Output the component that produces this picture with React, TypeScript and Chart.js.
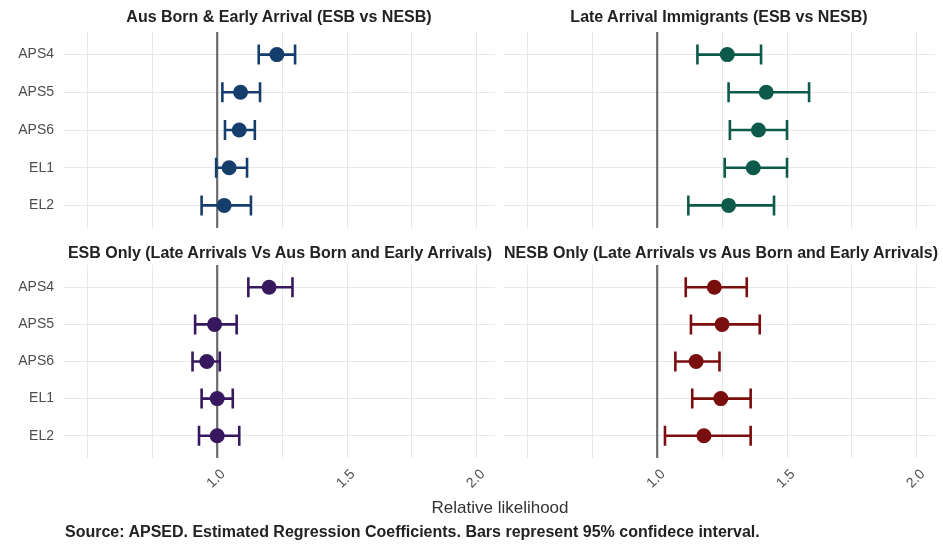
import React, { useEffect, useRef } from 'react';
import { Chart, registerables } from 'chart.js';
Chart.register(...registerables);

const categories = ['APS4', 'APS5', 'APS6', 'EL1', 'EL2'];
const gridValues = [0.5, 0.75, 1, 1.25, 1.5, 1.75, 2];
const labelValues = [1, 1.5, 2];
const tickLabels = ['1.0', '1.5', '2.0'];
const refValue = 1;

const ausEarlyEst = [1.23, 1.09, 1.085, 1.046, 1.027];
const ausEarlyLow = [1.16, 1.02, 1.03, 0.996, 0.94];
const ausEarlyHigh = [1.30, 1.165, 1.145, 1.115, 1.13];

const lateEst = [1.27, 1.42, 1.39, 1.37, 1.275];
const lateLow = [1.155, 1.275, 1.28, 1.26, 1.12];
const lateHigh = [1.40, 1.585, 1.50, 1.50, 1.45];

const esbEst = [1.20, 0.99, 0.96, 1.0, 1.0];
const esbLow = [1.12, 0.915, 0.905, 0.94, 0.93];
const esbHigh = [1.29, 1.075, 1.01, 1.06, 1.085];

const nesbEst = [1.22, 1.25, 1.15, 1.245, 1.18];
const nesbLow = [1.11, 1.13, 1.07, 1.135, 1.03];
const nesbHigh = [1.345, 1.395, 1.24, 1.36, 1.36];

const FONT = "'Liberation Sans', Arial, sans-serif";

type PanelProps = {
  est: number[];
  low: number[];
  high: number[];
  color: string;
  showY: boolean;
  showX: boolean;
  left: number;
  top: number;
  width: number;
  height: number;
  yWidth: number;
  xHeight: number;
  padding: { top: number; right: number; bottom: number; left: number };
};

function Panel(p: PanelProps) {
  const ref = useRef<HTMLCanvasElement | null>(null);
  useEffect(() => {
    if (!ref.current) return;
    const errPlugin = {
      id: 'errbars',
      beforeDatasetsDraw(chart: any) {
        const { ctx, chartArea, scales } = chart;
        const xs = scales.x;
        const ys = scales.y;
        ctx.save();
        const rx = xs.getPixelForValue(refValue);
        ctx.strokeStyle = '#6b6b6b';
        ctx.lineWidth = 2.2;
        ctx.beginPath();
        ctx.moveTo(rx, chartArea.top);
        ctx.lineTo(rx, chartArea.bottom);
        ctx.stroke();
        ctx.strokeStyle = p.color;
        ctx.lineWidth = 2.6;
        for (let i = 0; i < p.est.length; i++) {
          const y = ys.getPixelForValue(i);
          const x1 = xs.getPixelForValue(p.low[i]);
          const x2 = xs.getPixelForValue(p.high[i]);
          ctx.beginPath();
          ctx.moveTo(x1, y);
          ctx.lineTo(x2, y);
          ctx.moveTo(x1, y - 10);
          ctx.lineTo(x1, y + 10);
          ctx.moveTo(x2, y - 10);
          ctx.lineTo(x2, y + 10);
          ctx.stroke();
        }
        ctx.restore();
      },
      afterDraw(chart: any) {
        if (!p.showX) return;
        const { ctx, chartArea, scales } = chart;
        const xs = scales.x;
        ctx.save();
        ctx.fillStyle = '#4d4d4d';
        ctx.font = `14px ${FONT}`;
        ctx.textAlign = 'center';
        ctx.textBaseline = 'middle';
        labelValues.forEach((v, i) => {
          const px = xs.getPixelForValue(v);
          ctx.save();
          ctx.translate(px - 1, chartArea.bottom + 21);
          ctx.rotate(-Math.PI / 4);
          ctx.fillText(tickLabels[i], 0, 0);
          ctx.restore();
        });
        ctx.restore();
      },
    };
    const chart = new Chart(ref.current, {
      type: 'scatter',
      data: {
        datasets: [
          {
            data: p.est.map((v, i) => ({ x: v, y: i })),
            backgroundColor: p.color,
            borderColor: p.color,
            borderWidth: 0,
            pointRadius: 7.5,
          },
        ],
      },
      options: {
        animation: false,
        responsive: false,
        maintainAspectRatio: false,
        layout: { padding: p.padding, autoPadding: false },
        plugins: { legend: { display: false }, tooltip: { enabled: false }, title: { display: false } },
        scales: {
          x: {
            type: 'linear',
            min: 0.41,
            max: 2.07,
            afterBuildTicks: (s: any) => {
              s.ticks = gridValues.map((v) => ({ value: v }));
            },
            afterFit: (s: any) => {
              s.height = p.xHeight;
              s.paddingLeft = 0;
              s.paddingRight = 0;
              s.paddingTop = 0;
              s.paddingBottom = 0;
            },
            grid: { color: '#e8e8e8', lineWidth: 1, drawTicks: false },
            border: { display: false },
            ticks: { display: false },
          },
          y: {
            type: 'linear',
            min: -0.6,
            max: 4.6,
            reverse: true,
            afterBuildTicks: (s: any) => {
              s.ticks = categories.map((_, i) => ({ value: i }));
            },
            afterFit: (s: any) => {
              s.width = p.yWidth;
              s.paddingLeft = 0;
              s.paddingRight = 0;
              s.paddingTop = 0;
              s.paddingBottom = 0;
            },
            grid: { color: '#e8e8e8', lineWidth: 1, drawTicks: false },
            border: { display: false },
            ticks: {
              display: p.showY,
              autoSkip: false,
              padding: 10,
              color: '#4d4d4d',
              font: { family: FONT, size: 14 },
              callback: (v: any) => categories[Number(v)] ?? '',
            },
          },
        },
      },
      plugins: [errPlugin],
    } as any);
    return () => chart.destroy();
  }, []);
  return (
    <canvas
      ref={ref}
      width={p.width}
      height={p.height}
      style={{ position: 'absolute', left: p.left, top: p.top, width: p.width, height: p.height }}
    />
  );
}

const titleStyle = (cx: number, cy: number): React.CSSProperties => ({
  position: 'absolute',
  left: cx - 300,
  width: 600,
  top: cy - 10,
  height: 20,
  lineHeight: '20px',
  textAlign: 'center',
  fontFamily: FONT,
  fontWeight: 'bold',
  fontSize: 16,
  color: '#222',
  whiteSpace: 'nowrap',
  zIndex: 2,
});

export default function App() {
  return (
    <div style={{ position: 'fixed', left: 0, top: 0, width: 943, height: 545, background: '#fff', overflow: 'hidden' }}>
      <Panel est={ausEarlyEst} low={ausEarlyLow} high={ausEarlyHigh} color="#163e6c" showY showX={false}
        left={0} top={0} width={500} height={232} yWidth={64} xHeight={0}
        padding={{ top: 32, right: 5, bottom: 4, left: 0 }} />
      <Panel est={lateEst} low={lateLow} high={lateHigh} color="#0d5a4a" showY={false} showX={false}
        left={500} top={0} width={443} height={232} yWidth={4} xHeight={0}
        padding={{ top: 32, right: 8, bottom: 4, left: 0 }} />
      <Panel est={esbEst} low={esbLow} high={esbHigh} color="#37185f" showY showX
        left={0} top={236} width={500} height={300} yWidth={64} xHeight={42}
        padding={{ top: 29, right: 5, bottom: 36, left: 0 }} />
      <Panel est={nesbEst} low={nesbLow} high={nesbHigh} color="#7a0d0d" showY={false} showX
        left={500} top={236} width={443} height={300} yWidth={4} xHeight={42}
        padding={{ top: 29, right: 8, bottom: 36, left: 0 }} />
      <div style={titleStyle(279, 17)}>Aus Born &amp; Early Arrival (ESB vs NESB)</div>
      <div style={titleStyle(719, 17)}>Late Arrival Immigrants (ESB vs NESB)</div>
      <div style={titleStyle(280, 253)}>ESB Only (Late Arrivals Vs Aus Born and Early Arrivals)</div>
      <div style={titleStyle(721, 253)}>NESB Only (Late Arrivals vs Aus Born and Early Arrivals)</div>
      <div style={{ position: 'absolute', left: 200, width: 600, top: 498, height: 20, lineHeight: '20px', textAlign: 'center', fontFamily: FONT, fontSize: 17, color: '#333', zIndex: 2 }}>
        Relative likelihood
      </div>
      <div style={{ position: 'absolute', left: 65, top: 522, height: 20, lineHeight: '20px', fontFamily: FONT, fontWeight: 'bold', fontSize: 16, color: '#222', whiteSpace: 'nowrap', zIndex: 2 }}>
        Source: APSED. Estimated Regression Coefficients. Bars represent 95% confidece interval.
      </div>
    </div>
  );
}
